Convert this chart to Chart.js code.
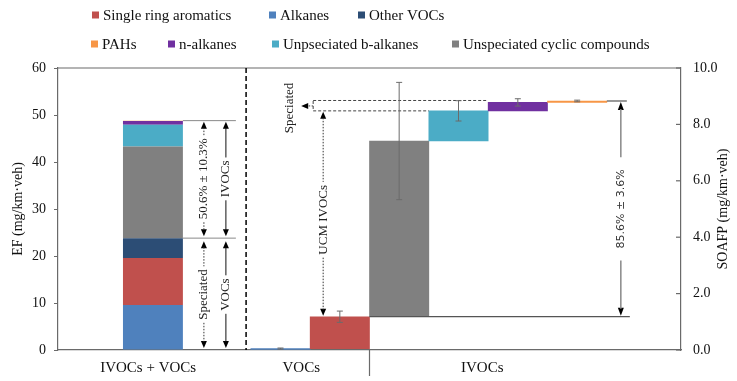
<!DOCTYPE html>
<html>
<head>
<meta charset="utf-8">
<script src="https://cdn.jsdelivr.net/npm/chart.js@4.4.1/dist/chart.umd.min.js"></script>
<style>
  html, body { margin: 0; padding: 0; background: #ffffff; }
  canvas { display: block; }
</style>
</head>
<body>
<canvas id="c" width="737" height="381"></canvas>
<script>
// ---------------- DATA ----------------
// Left stacked column: emission factors EF (mg/km·veh), bottom to top
const efCategories = ['Alkanes', 'Single ring aromatics', 'Other VOCs',
  'Unspeciated cyclic compounds', 'Unpseciated b-alkanes', 'n-alkanes', 'PAHs'];
const efValues = [9.6, 10.0, 4.2, 19.5, 4.6, 0.8, 0.1];
const efVocCount = 3; // first three are VOCs

// Waterfall: SOAFP (mg/km·veh) contributions, left to right
const soaCategories = ['Alkanes', 'Single ring aromatics', 'Unspeciated cyclic compounds',
  'Unpseciated b-alkanes', 'n-alkanes', 'PAHs'];
const soaValues = [0.05, 1.13, 6.23, 1.07, 0.30, 0.05];
const soaErrors = [0.02, 0.20, 2.08, 0.36, 0.13, 0.03];

// Legend order
const legendRow1 = ['Single ring aromatics', 'Alkanes', 'Other VOCs'];
const legendRow2 = ['PAHs', 'n-alkanes', 'Unpseciated b-alkanes', 'Unspeciated cyclic compounds'];

// Group labels on the x axis
const groupLabels = ['IVOCs + VOCs', 'VOCs', 'IVOCs'];

// Annotation texts
const txtIvocShare = '50.6% \u00B1 10.3%';
const txtUcmShare = '85.6% \u00B1 3.6%';

// Ticks
const efTicks = [0, 10, 20, 30, 40, 50, 60];
const soaTicks = [0, 2, 4, 6, 8, 10];

// ---------------- STYLE / LAYOUT ----------------
const colors = {
  'Alkanes': '#4F81BD',
  'Single ring aromatics': '#C0504D',
  'Other VOCs': '#2C4D75',
  'Unspeciated cyclic compounds': '#808080',
  'Unpseciated b-alkanes': '#4BACC6',
  'n-alkanes': '#7030A0',
  'PAHs': '#F79646'
};
const SERIF = '"Liberation Serif", "Times New Roman", serif';
const SANS = '"DejaVu Sans", sans-serif';
const AXIS = '#6a6a6a';

// x-axis layout (slot units)
const leftBarX = 1.6;
const waterfallStartX = 3.75;
const separatorX = 3.17;
const dividerX = 5.25;
const groupLabelX = [1.52, 4.1, 7.15];

// ---------------- BUILD ----------------
const soaX = soaValues.map((_, i) => waterfallStartX + i);
let cum = 0;
const soaFloat = soaValues.map(v => { const b = cum; cum += v; return [b, cum]; });

const datasets = efCategories.map((name, i) => ({
  type: 'bar',
  label: name,
  data: [{ x: leftBarX, y: efValues[i] }],
  backgroundColor: colors[name],
  yAxisID: 'y',
  stack: 'ef',
  grouped: false,
  categoryPercentage: 1,
  barPercentage: 1.01,
  borderWidth: 0
}));
datasets.push({
  type: 'bar',
  label: 'SOAFP',
  data: soaX.map((x, i) => ({ x: x, y: soaFloat[i] })),
  backgroundColor: soaCategories.map(n => colors[n]),
  yAxisID: 'y2',
  grouped: false,
  categoryPercentage: 1,
  barPercentage: 1,
  borderWidth: 0
});

function tri(ctx, x, y, dir, w = 3, h = 7) {
  ctx.beginPath();
  if (dir === 'up') { ctx.moveTo(x, y); ctx.lineTo(x - w, y + h); ctx.lineTo(x + w, y + h); }
  else if (dir === 'down') { ctx.moveTo(x, y); ctx.lineTo(x - w, y - h); ctx.lineTo(x + w, y - h); }
  else if (dir === 'left') { ctx.moveTo(x, y); ctx.lineTo(x + h, y - w); ctx.lineTo(x + h, y + w); }
  ctx.closePath();
  ctx.fill();
}
function line(ctx, x1, y1, x2, y2) {
  ctx.beginPath(); ctx.moveTo(x1, y1); ctx.lineTo(x2, y2); ctx.stroke();
}
function vtext(ctx, text, x, y, font, color) {
  ctx.save();
  ctx.translate(x, y);
  ctx.rotate(-Math.PI / 2);
  ctx.font = font;
  ctx.fillStyle = color;
  ctx.textAlign = 'center';
  ctx.textBaseline = 'middle';
  ctx.fillText(text, 0, 0);
  ctx.restore();
  ctx.font = font;
  return ctx.measureText(text).width;
}
// vertical double arrow with a text gap in the middle
function dimArrow(ctx, x, yTop, yBot, text, font, textColor, lineColor, dash, textCenter) {
  ctx.save();
  ctx.fillStyle = '#000';
  tri(ctx, x, yTop, 'up');
  tri(ctx, x, yBot, 'down');
  const yc = textCenter !== undefined ? textCenter : (yTop + yBot) / 2;
  const tw = vtext(ctx, text, x, yc, font, textColor);
  ctx.strokeStyle = lineColor;
  ctx.lineWidth = 1;
  ctx.setLineDash(dash);
  line(ctx, x, yTop + 6, x, yc - tw / 2 - 3);
  line(ctx, x, yc + tw / 2 + 3, x, yBot - 6);
  ctx.restore();
}

const annotations = {
  id: 'annotations',
  afterDatasetsDraw(chart) {
    const ctx = chart.ctx;
    const xs = chart.scales.x, ys = chart.scales.y, y2 = chart.scales.y2;
    const area = chart.chartArea;
    ctx.save();

    // top border of plot frame
    ctx.strokeStyle = AXIS; ctx.lineWidth = 1.2;
    line(ctx, area.left, area.top, area.right, area.top);

    // dashed separator
    ctx.strokeStyle = '#000'; ctx.lineWidth = 1.5; ctx.setLineDash([5, 3]);
    const sx = xs.getPixelForValue(separatorX);
    line(ctx, sx, area.top, sx, area.bottom);
    ctx.setLineDash([]);

    // divider tick on x axis
    const dx = xs.getPixelForValue(dividerX);
    ctx.strokeStyle = AXIS; ctx.lineWidth = 1.2;
    line(ctx, dx, area.bottom, dx, area.bottom + 26);

    // inward ticks on right axis
    soaTicks.forEach(t => {
      const py = y2.getPixelForValue(t);
      line(ctx, area.right - 5, py, area.right, py);
    });

    // ---- left column annotations ----
    const leftMeta = chart.getDatasetMeta(0).data[0];
    const bRight = leftMeta.x + leftMeta.width / 2;
    const efTotal = efValues.reduce((a, b) => a + b, 0);
    const vocTotal = efValues.slice(0, efVocCount).reduce((a, b) => a + b, 0);
    const pTop = ys.getPixelForValue(efTotal);
    const pMid = ys.getPixelForValue(vocTotal);
    const p0 = ys.getPixelForValue(0);
    ctx.strokeStyle = '#8a8a8a'; ctx.lineWidth = 1;
    line(ctx, bRight, pTop, bRight + 53, pTop);
    line(ctx, bRight, pMid, bRight + 53, pMid);
    const a1 = bRight + 21, a2 = bRight + 43;
    const f13 = '13px ' + SERIF;
    dimArrow(ctx, a1, pTop + 1, pMid - 2, txtIvocShare, f13, '#222', '#333', [1.5, 1.5]);
    dimArrow(ctx, a1, pMid + 3, p0 - 2, 'Speciated', f13, '#222', '#333', [1.5, 1.5]);
    dimArrow(ctx, a2, pTop + 1, pMid - 2, 'IVOCs', f13, '#222', '#111', []);
    dimArrow(ctx, a2, pMid + 3, p0 - 2, 'VOCs', f13, '#222', '#111', []);

    // ---- waterfall annotations ----
    const wMeta = chart.getDatasetMeta(efCategories.length).data;
    const total = soaFloat[soaFloat.length - 1][1];
    const ucmTop = soaFloat[3][1];
    const redTop = soaFloat[1][1];
    const pTot = y2.getPixelForValue(total);
    const pUcm = y2.getPixelForValue(ucmTop);
    const pRed = y2.getPixelForValue(redTop);
    const redLeft = wMeta[1].x - wMeta[1].width / 2;
    const xd = redLeft + 3;
    ctx.strokeStyle = '#444'; ctx.lineWidth = 1; ctx.setLineDash([3, 2]);
    line(ctx, xd, pTot - 0.5, wMeta[4].x - wMeta[4].width / 2, pTot - 0.5);
    line(ctx, xd, pUcm, wMeta[3].x - wMeta[3].width / 2, pUcm);
    line(ctx, xd, pTot, xd, pUcm);
    ctx.setLineDash([1.5, 1.5]);
    const pSpecMid = (pTot + pUcm) / 2;
    line(ctx, xd, pSpecMid, xd - 8, pSpecMid);
    ctx.setLineDash([]);
    ctx.fillStyle = '#000';
    tri(ctx, xd - 12, pSpecMid, 'left', 3, 7);
    vtext(ctx, 'Speciated', xd - 24, pSpecMid + 2, f13, '#222');

    // UCM IVOCs arrow
    const xu = xd + 10;
    dimArrow(ctx, xu, pUcm + 1, pRed - 1, 'UCM IVOCs', f13, '#222', '#333', [1.5, 1.5], (pUcm + pRed) / 2 + 6);

    // right dimension
    const orRight = wMeta[5].x + wMeta[5].width / 2;
    const grayLeft = wMeta[2].x - wMeta[2].width / 2;
    ctx.strokeStyle = '#555'; ctx.lineWidth = 1.2;
    line(ctx, grayLeft, pRed, orRight + 23, pRed);
    line(ctx, orRight, pTot, orRight + 20, pTot);
    ctx.save();
    const xa = orRight + 14;
    ctx.fillStyle = '#000';
    tri(ctx, xa, pTot + 1, 'up', 3, 8);
    tri(ctx, xa, pRed - 1, 'down', 3, 8);
    const f11 = '11px ' + SANS;
    const yc = (pTot + pRed) / 2;
    const tw = vtext(ctx, txtUcmShare, xa, yc, f11, '#333');
    ctx.strokeStyle = '#888'; ctx.lineWidth = 1.5;
    line(ctx, xa, pTot + 8, xa, yc - tw / 2 - 12);
    line(ctx, xa, yc + tw / 2 + 12, xa, pRed - 8);
    ctx.restore();

    // error bars
    ctx.strokeStyle = '#6b6b6b'; ctx.lineWidth = 1;
    wMeta.forEach((bar, i) => {
      const top = soaFloat[i][1];
      const hi = y2.getPixelForValue(top + soaErrors[i]);
      const lo = y2.getPixelForValue(top - soaErrors[i]);
      line(ctx, bar.x, hi, bar.x, lo);
      line(ctx, bar.x - 3, hi, bar.x + 3, hi);
      line(ctx, bar.x - 3, lo, bar.x + 3, lo);
    });

    // right axis title (reads bottom to top)
    vtext(ctx, 'SOAFP (mg/km\u00B7veh)', 723, (area.top + area.bottom) / 2, '14px ' + SERIF, '#111');

    // legend
    const f15 = '15px ' + SERIF;
    ctx.font = f15;
    ctx.textBaseline = 'middle';
    ctx.textAlign = 'left';
    const drawRow = (items, xStarts, y) => {
      items.forEach((name, i) => {
        const x = xStarts[i];
        ctx.fillStyle = colors[name];
        ctx.fillRect(x, y - 3.5, 7, 7);
        ctx.fillStyle = '#111';
        ctx.fillText(name, x + 11, y + 1);
      });
    };
    drawRow(legendRow1, [92, 269, 358], 15);
    drawRow(legendRow2, [91, 168, 272, 452], 44);

    ctx.restore();
  }
};

new Chart(document.getElementById('c'), {
  data: { datasets },
  plugins: [annotations],
  options: {
    responsive: false,
    animation: false,
    layout: { padding: { top: 68, left: 0, right: 0, bottom: 0 } },
    plugins: { legend: { display: false }, tooltip: { enabled: false }, title: { display: false } },
    scales: {
      x: {
        type: 'linear',
        offset: false,
        min: 0,
        max: 10.5,
        afterFit: s => { s.height = 31; },
        afterBuildTicks: s => { s.ticks = groupLabelX.map(v => ({ value: v })); },
        ticks: {
          autoSkip: false, maxRotation: 0,
          callback: (v, i) => groupLabels[i],
          font: { family: SERIF, size: 15 }, color: '#111', padding: 9
        },
        grid: { display: false, drawTicks: false, offset: false },
        border: { display: true, color: AXIS, width: 1.2 }
      },
      y: {
        position: 'left',
        stacked: true,
        min: 0, max: 60,
        afterFit: s => { s.width = 58; },
        afterBuildTicks: s => { s.ticks = efTicks.map(v => ({ value: v })); },
        ticks: { font: { family: SERIF, size: 14 }, color: '#111', padding: 8 },
        grid: { drawOnChartArea: false, tickLength: 4, color: AXIS },
        border: { display: true, color: AXIS, width: 1.2 },
        title: { display: true, text: 'EF (mg/km\u00B7veh)', font: { family: SERIF, size: 14 }, color: '#111', padding: { top: 10, bottom: 0 } }
      },
      y2: {
        position: 'right',
        stacked: false,
        min: 0, max: 10,
        afterFit: s => { s.width = 56; },
        afterBuildTicks: s => { s.ticks = soaTicks.map(v => ({ value: v })); },
        ticks: { font: { family: SERIF, size: 14 }, color: '#111', padding: 12, callback: v => Number(v).toFixed(1) },
        grid: { drawOnChartArea: false, drawTicks: false },
        border: { display: true, color: AXIS, width: 1.2 }
      }
    }
  }
});
</script>
</body>
</html>
